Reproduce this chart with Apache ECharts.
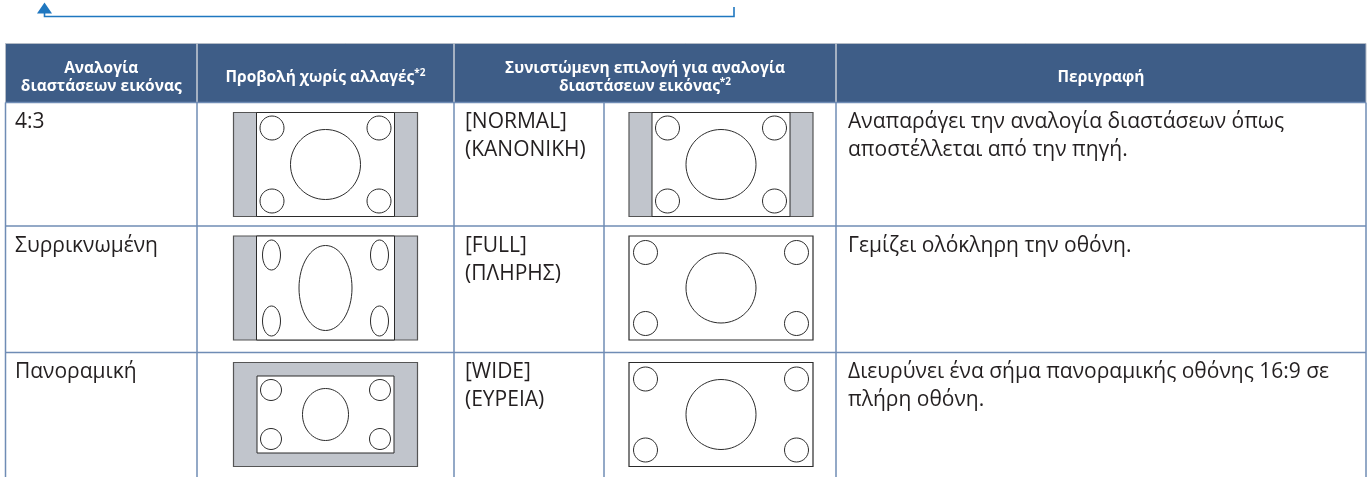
<!DOCTYPE html>
<html><head><meta charset="utf-8">
<script src="https://cdn.jsdelivr.net/npm/echarts@6/dist/echarts.min.js"></script>
<style>html,body{margin:0;padding:0;background:#fff}#c{width:1370px;height:477px}</style>
</head><body><div id="c"></div>
<script>
// ---- data ----
const headers = [
  ['Αναλογία', 'διαστάσεων εικόνας'],
  ['Προβολή χωρίς αλλαγές*2'],
  ['Συνιστώμενη επιλογή για αναλογία', 'διαστάσεων εικόνας*2'],
  ['Περιγραφή']
];
const rowLabels = ['4:3', 'Συρρικνωμένη', 'Πανοραμική'];
const sourceViews = ['pillarbox', 'squeezed', 'windowbox'];
const recommendedOptions = [['[NORMAL]', '(ΚΑΝΟΝΙΚΗ)'], ['[FULL]', '(ΠΛΗΡΗΣ)'], ['[WIDE]', '(ΕΥΡΕΙΑ)']];
const recommendedViews = ['pillarbox', 'full', 'full'];
const descriptions = [
  ['Αναπαράγει την αναλογία διαστάσεων όπως', 'αποστέλλεται από την πηγή.'],
  ['Γεμίζει ολόκληρη την οθόνη.'],
  ['Διευρύνει ένα σήμα πανοραμικής οθόνης 16:9 σε', 'πλήρη οθόνη.']
];

// ---- layout ----
const FONT = "'Open Sans', 'Noto Sans', sans-serif";
const colX = [5.5, 197, 454, 604, 836, 1366];
const headTop = 43.5, headBot = 102.5;
const rowY = [102.5, 226, 352.5, 479];
const HEAD_BG = '#3e5d87', GRID = '#6f8cb5', HSEP = '#c8ced6', TXT = '#231f20';
const GREY = '#c1c5cc';

const els = [];
// arrow
els.push({type: 'polyline', shape: {points: [[44.5, 13], [44.5, 16.5], [734, 16.5], [734, 7]]},
  style: {stroke: '#1f77c0', lineWidth: 1.6, fill: null}});
els.push({type: 'polygon', shape: {points: [[37, 13.5], [52, 13.5], [44.5, 2.5]]}, style: {fill: '#1f77c0'}});

// header
els.push({type: 'rect', shape: {x: colX[0], y: headTop, width: colX[5] - colX[0], height: headBot - headTop},
  style: {fill: HEAD_BG, stroke: '#b3bbc6', lineWidth: 1}});
[colX[1], colX[2], colX[4]].forEach(x => els.push({type: 'line', shape: {x1: x, y1: headTop, x2: x, y2: headBot},
  style: {stroke: HSEP, lineWidth: 1.5}}));
// body grid
for (let i = 0; i < 3; i++) {
  els.push({type: 'line', shape: {x1: colX[0], y1: rowY[i], x2: colX[5], y2: rowY[i]}, style: {stroke: GRID, lineWidth: 1.5}});
}
colX.forEach(x => els.push({type: 'line', shape: {x1: x, y1: headBot, x2: x, y2: rowY[3]}, style: {stroke: GRID, lineWidth: 1.5}}));

// header texts
const headSpans = [[colX[0], colX[1]], [colX[1], colX[2]], [colX[2], colX[4]], [colX[4], colX[5]]];
headers.forEach((lines, i) => {
  const txt = lines.map(l => {
    const m = l.match(/^(.*?)(\*2)?$/);
    return '{h|' + m[1] + '}' + (m[2] ? '{s|' + m[2] + '}' : '');
  }).join('\n');
  els.push({type: 'text', style: {
    text: txt, x: (headSpans[i][0] + headSpans[i][1]) / 2, y: 77.5, align: 'center', verticalAlign: 'middle',
    rich: {
      h: {fontSize: 15.5, fontWeight: 'bold', fontFamily: FONT, fill: '#fff', lineHeight: 18.5},
      s: {fontSize: 10, fontWeight: 'bold', fontFamily: FONT, fill: '#fff', lineHeight: 10, verticalAlign: 'top'}
    }
  }});
});

// body text helper
function bodyText(lines, x, rowTop) {
  els.push({type: 'text', style: {text: lines.join('\n'), x: x, y: rowTop + 6, align: 'left', verticalAlign: 'top',
    fontSize: 21, fontFamily: FONT, fill: TXT, lineHeight: 28}});
}

// icon helper: 16:9 screen showing content
function icon(cx, cy, mode) {
  const w = 184, h = 104, x = cx - w / 2, y = cy - h / 2;
  const S = '#2b2b2b';
  const circ = (ccx, ccy, rx, ry) => els.push({type: 'ellipse', shape: {cx: ccx, cy: ccy, rx: rx, ry: ry},
    style: {fill: '#fff', stroke: S, lineWidth: 1}});
  let ix, iy, iw, ih, r, rb, off, sq = false;
  if (mode === 'full') {
    els.push({type: 'rect', shape: {x, y, width: w, height: h}, style: {fill: '#fff', stroke: S, lineWidth: 1.2}});
    ix = x; iy = y; iw = w; ih = h; r = 12; rb = 35; off = 16.5;
  } else if (mode === 'windowbox') {
    els.push({type: 'rect', shape: {x, y, width: w, height: h}, style: {fill: GREY, stroke: '#555', lineWidth: 1.2}});
    iw = 137; ih = 77; ix = cx - iw / 2; iy = cy - ih / 2;
    els.push({type: 'rect', shape: {x: ix, y: iy, width: iw, height: ih}, style: {fill: '#fff', stroke: S, lineWidth: 1}});
    r = 10.5; rb = 23; off = 14;
  } else {
    els.push({type: 'rect', shape: {x, y, width: w, height: h}, style: {fill: GREY, stroke: '#555', lineWidth: 1.2}});
    iw = 138; ih = h; ix = cx - iw / 2; iy = y;
    els.push({type: 'rect', shape: {x: ix, y: iy, width: iw, height: ih}, style: {fill: '#fff', stroke: S, lineWidth: 1}});
    r = 12; rb = 35; off = 15.5;
    if (mode === 'squeezed') sq = true;
  }
  if (sq) {
    const ox = 15, oy = 19;
    [[ix + ox, iy + oy], [ix + iw - ox, iy + oy], [ix + ox, iy + ih - oy], [ix + iw - ox, iy + ih - oy]]
      .forEach(p => circ(p[0], p[1], 9, 15));
    circ(cx, cy, 26.5, 42.5);
  } else {
    [[ix + off, iy + off], [ix + iw - off, iy + off], [ix + off, iy + ih - off], [ix + iw - off, iy + ih - off]]
      .forEach(p => circ(p[0], p[1], r, r));
    circ(cx, cy, rb, mode === 'windowbox' ? rb + 3 : rb);
  }
}

for (let i = 0; i < rowLabels.length; i++) {
  const top = rowY[i];
  const cyc = top + 62;
  bodyText([rowLabels[i]], 15, top);
  icon((colX[1] + colX[2]) / 2, cyc, sourceViews[i]);
  bodyText(recommendedOptions[i], 465, top);
  icon((colX[3] + colX[4]) / 2 + 1, cyc, recommendedViews[i]);
  bodyText(descriptions[i], 848, top);
}

const chart = echarts.init(document.getElementById('c'), null, {renderer: 'canvas'});
chart.setOption({animation: false, graphic: {elements: els}});
</script>
</body></html>
